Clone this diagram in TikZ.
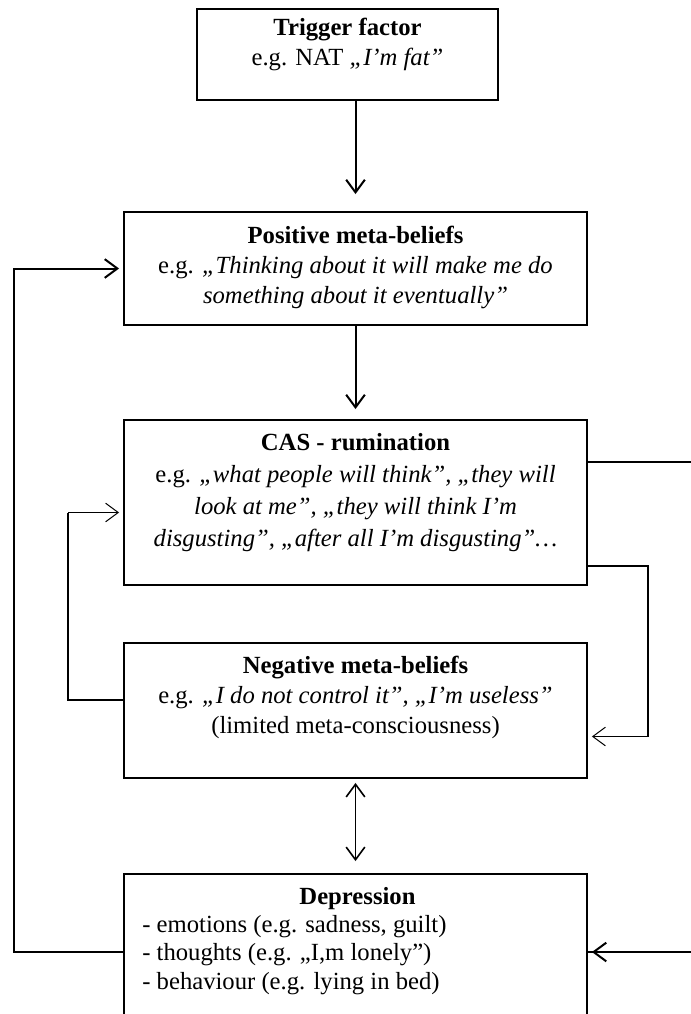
\documentclass[tikz,border=0pt]{standalone}
\usepackage{fontspec}
\setmainfont{Liberation Serif}
\usetikzlibrary{arrows.meta,positioning,calc}

\tikzset{
  box/.style={draw, line width=1.4pt, minimum width=347.25pt, inner sep=0pt},
  txt/.style={inner sep=0pt, align=center},
  conn/.style={line width=1.5pt},
  arr/.style={line width=1.5pt, -{Straight Barb[length=9.5pt,width=14pt]}},
  thinarr/.style={line width=0.75pt, -{Straight Barb[length=9.5pt,width=14pt]}},
  dblarr/.style={line width=1.2pt, {Straight Barb[length=9.5pt,width=14pt]}-{Straight Barb[length=9.5pt,width=14pt]}}
}

\begin{document}
\begin{tikzpicture}[x=0.75pt, y=-0.75pt, font=\fontsize{18.5}{22.5}\selectfont]
\useasboundingbox (0,0) rectangle (691,1014);
\clip (0,0) rectangle (691,1014);

% boxes
\node[box, minimum width=225.75pt, minimum height=68.25pt] (trig) at (347.5,54.5) {};
\node[box, minimum height=84.75pt] (pos) at (355.5,268.5) {};
\node[box, minimum height=123.75pt] (cas) at (355.5,502.5) {};
\node[box, minimum height=101.25pt] (neg) at (355.5,710.5) {};
\node[box, minimum height=117pt] (dep) at (355.5,952) {};

% texts
\node[txt, below=7pt of trig.north] (trigtxt) {\textbf{Trigger factor}\\e.g. NAT \textit{„I’m fat”}};
\node[txt, below=11pt of pos.north] (postxt) {\textbf{Positive meta-beliefs}\\e.g. \textit{„Thinking about it will make me do}\\\textit{something about it eventually”}};
\node[txt, font=\fontsize{18.5}{24}\selectfont, below=10.5pt of cas.north] (castxt) {\textbf{CAS - rumination}\\e.g. \textit{„what people will think”, „they will}\\\textit{look at me”, „they will think I’m}\\\textit{disgusting”, „after all I’m disgusting”…}};
\node[txt, below=10.5pt of neg.north] (negtxt) {\textbf{Negative meta-beliefs}\\e.g. \textit{„I do not control it”, „I’m useless”}\\(limited meta-consciousness)};
\node[txt, below=10.5pt of dep.north, xshift=1.5pt] (deptitle) {\textbf{Depression}};
\node[txt, font=\fontsize{18.5}{21.4}\selectfont, align=left, anchor=north west] (deplist) at ($(dep.north west)+(19,42)$) {- emotions (e.g. sadness, guilt)\\- thoughts (e.g. „I,m lonely”)\\- behaviour (e.g. lying in bed)};

% rails
\coordinate (leftrail) at (14,952);
\coordinate (rightrail) at (700,462);
\coordinate (loopL) at (68,700);
\coordinate (loopR) at (648,566);

% main chain
\draw[arr, shorten >=12.75pt] (trig.south -| pos.north) -- (pos.north);
\draw[arr, shorten >=7.5pt] (pos.south) -- (cas.north);
\draw[dblarr, shorten <=3pt, shorten >=9pt] (neg.south) -- (dep.north);

% feedback from depression
\draw[arr, shorten >=3pt] (dep.west) -- (leftrail) |- (pos.west);
\draw[conn] (cas.east |- rightrail) -- (rightrail) |- (dep.east);
\draw[arr, shorten >=3pt] (rightrail |- dep.east) -- (dep.east);

% loops between CAS and negative meta-beliefs
\draw[conn] (neg.west |- loopL) -- (loopL) -- ($(loopL |- cas.west)+(0,10)$);
\draw[thinarr, shorten >=3pt] ($(loopL |- cas.west)+(0,10)$) -- ($(cas.west)+(0,10)$);
\draw[conn] (cas.east |- loopR) -- (loopR) -- ($(loopR |- neg.east)+(0,26)$);
\draw[thinarr, shorten >=3pt] ($(loopR |- neg.east)+(0,26)$) -- ($(neg.east)+(0,26)$);
\end{tikzpicture}
\end{document}
